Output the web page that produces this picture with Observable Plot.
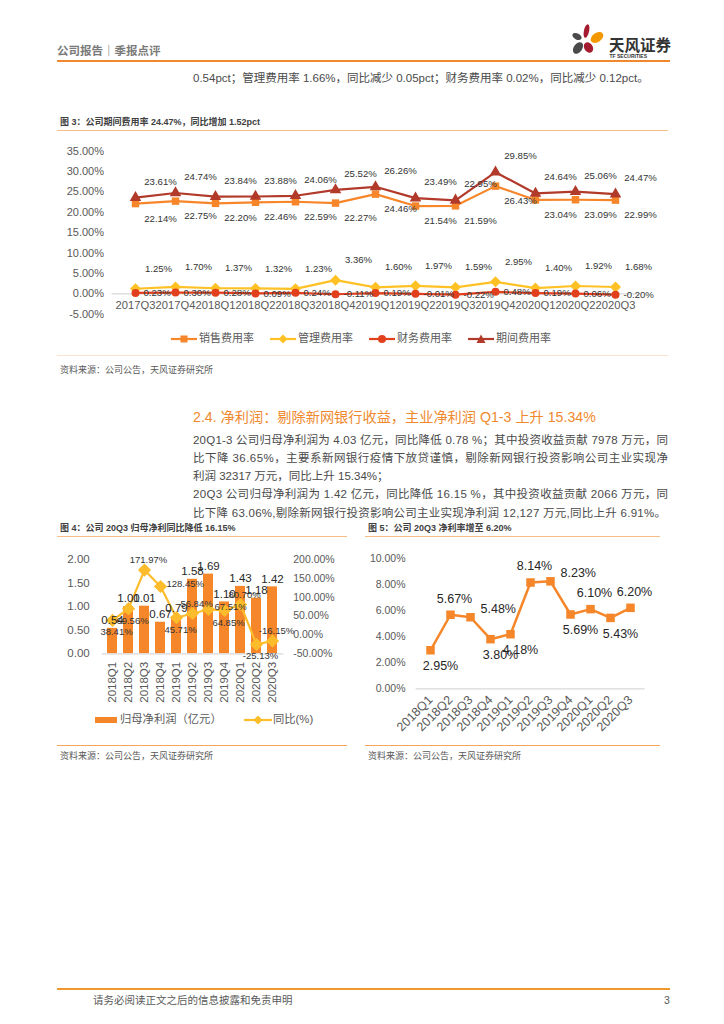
<!DOCTYPE html>
<html><head><meta charset="utf-8">
<script src="https://cdn.jsdelivr.net/npm/d3@7"></script>
<script src="https://cdn.jsdelivr.net/npm/@observablehq/plot@0.6"></script>
<style>
body{margin:0;background:#fff;}
#page{position:relative;width:724px;height:1024px;overflow:hidden;font-family:"Liberation Sans",Arial,"Noto Sans CJK SC",sans-serif;color:#404040;background:#fff;}
.abs{position:absolute;white-space:nowrap;}
.hl{position:absolute;height:0;}
.chart{position:absolute;}
.chart svg{overflow:visible;}
</style></head>
<body><div id="page"></div>
<script>
// ---------- data ----------
const quarters1 = ["2017Q3","2017Q4","2018Q1","2018Q2","2018Q3","2018Q4","2019Q1","2019Q2","2019Q3","2019Q4","2020Q1","2020Q2","2020Q3"];
const salesRate   = [22.14,22.75,22.20,22.46,22.59,22.27,24.46,21.54,21.59,26.43,23.04,23.09,22.99];
const adminRate   = [1.25,1.70,1.37,1.32,1.23,3.36,1.60,1.97,1.59,2.95,1.40,1.92,1.68];
const financeRate = [0.23,0.30,0.28,0.09,0.24,-0.11,0.19,-0.01,-0.22,0.48,0.19,0.06,-0.20];
const periodRate  = [23.61,24.74,23.84,23.88,24.06,25.52,26.26,23.49,22.95,29.85,24.64,25.06,24.47];
const yTicks1 = [-5,0,5,10,15,20,25,30,35];

const quarters2 = ["2018Q1","2018Q2","2018Q3","2018Q4","2019Q1","2019Q2","2019Q3","2019Q4","2020Q1","2020Q2","2020Q3"];
const netProfit = [0.54,1.00,1.01,0.67,0.79,1.58,1.69,1.10,1.43,1.18,1.42];
const profitYoY = [38.41,69.56,171.97,128.45,45.71,56.84,67.51,64.85,80.70,-25.13,-16.15];
const yTicksLeft2 = [0,0.5,1,1.5,2];
const yTicksRight2 = [-50,0,50,100,150,200];
const rightDomain2 = [-50,200];

const netMargin = [2.95,5.67,5.48,3.80,4.18,8.14,8.23,5.69,6.10,5.43,6.20];
const yTicks3 = [0,2,4,6,8,10];

const legend1 = ["销售费用率","管理费用率","财务费用率","期间费用率"];
const legend2 = ["归母净利润（亿元）","同比(%)"];

// ---------- helpers ----------
const FONT = '"Liberation Sans", Arial, "Noto Sans CJK SC", sans-serif';
const page = document.getElementById("page");
function txt(s, x, yc, fs, opts = {}) {
  const d = document.createElement("div");
  d.className = "abs"; d.textContent = s;
  d.style.left = x + "px"; d.style.top = (yc - fs * 0.6) + "px";
  d.style.fontSize = fs + "px"; d.style.lineHeight = (fs * 1.2) + "px";
  Object.assign(d.style, opts);
  page.appendChild(d); return d;
}
function hline(x1, x2, y, color, w) {
  const d = document.createElement("div");
  d.className = "hl";
  d.style.left = x1 + "px"; d.style.width = (x2 - x1) + "px";
  d.style.top = (y - w / 2) + "px"; d.style.borderTop = w + "px solid " + color;
  page.appendChild(d);
}
function place(svg, x, y) {
  const w = document.createElement("div");
  w.className = "chart"; w.style.left = x + "px"; w.style.top = y + "px";
  w.appendChild(svg); page.appendChild(w);
}
function fitLine(d, target) {
  const w = d.getBoundingClientRect().width;
  const n = [...d.textContent].length;
  d.style.letterSpacing = ((target - w) / (n - 1)) + "px";
}
const pct = v => v.toFixed(2) + "%";
// label placement from the series shape: above local highs, below local lows,
// to the right when the previous point was also a high
function placeLabels(values) {
  const up = values.map((v, i) => {
    const nb = [values[i - 1], values[i + 1]].filter(x => x != null);
    return v >= d3.mean(nb);
  });
  return values.map((v, i) => !up[i] ? "below" : (i > 0 && up[i - 1] ? "right" : "above"));
}

// ---------- page header ----------
txt("公司报告｜季报点评", 57, 51, 11.5, {color: "#7a7a7a", fontWeight: "bold", fontFamily: '"Noto Sans CJK SC", sans-serif'});
hline(57, 670, 61, "#F0892E", 2);
const logo = document.createElementNS("http://www.w3.org/2000/svg", "svg");
logo.setAttribute("width", "120"); logo.setAttribute("height", "50");
logo.innerHTML = `
<g transform="translate(-560,-15)">
<ellipse cx="586.5" cy="31" rx="2.6" ry="7" transform="rotate(12 586.5 31)" fill="#A51C30"/>
<ellipse cx="597" cy="37.5" rx="7" ry="4.6" transform="rotate(-35 597 37.5)" fill="#F39800"/>
<ellipse cx="577" cy="36.5" rx="5" ry="3" transform="rotate(28 577 36.5)" fill="#4a4a4a"/>
<ellipse cx="578" cy="48" rx="4.2" ry="6.5" transform="rotate(35 578 48)" fill="#4a4a4a"/>
<ellipse cx="588.5" cy="47.5" rx="4.2" ry="5.6" transform="rotate(-35 588.5 47.5)" fill="#A51C30"/>
<text x="609" y="50.5" font-size="15.5" font-weight="bold" fill="#333" font-family='"Noto Sans CJK SC", sans-serif'>天风证券</text>
<text x="609.5" y="57.5" font-size="5" font-weight="bold" fill="#333" font-family='"Liberation Sans", Arial, sans-serif'>TF SECURITIES</text>
</g>`;
logo.style.position = "absolute"; logo.style.left = "560px"; logo.style.top = "15px";
page.appendChild(logo);

txt("0.54pct；管理费用率 1.66%，同比减少 0.05pct；财务费用率 0.02%，同比减少 0.12pct。", 193, 79, 11.5, {color: "#4a4a4a"});

// ---------- figure 3 ----------
txt("图 3：公司期间费用率 24.47%，同比增加 1.52pct", 60, 122, 9, {color: "#404040", fontWeight: "bold"});
hline(57, 668, 131, "#F6BD86", 1.5);

const C_SALES = "#F7862B", C_ADMIN = "#FFC125", C_FIN = "#E2401D", C_PERIOD = "#B23A2A";
const rows1 = quarters1.map((q, i) => ({q, s: salesRate[i], a: adminRate[i], f: financeRate[i], p: periodRate[i]}));
const lblStyle1 = {fontSize: 9.6, fill: "#333", fontFamily: FONT};
const chart1 = Plot.plot({
  width: 600, height: 185,
  marginLeft: 56.5, marginRight: 16.5, marginTop: 10.7, marginBottom: 11.3,
  style: {fontFamily: FONT, fontSize: "11px", color: "#595959", background: "transparent", overflow: "visible"},
  x: {type: "point", domain: quarters1, padding: 0.5, axis: null},
  y: {domain: [-5, 35]},
  marks: [
    Plot.ruleY([0], {stroke: "#D9D9D9", strokeWidth: 1.3}),
    Plot.axisY({ticks: yTicks1, tickFormat: pct, tickSize: 0, tickPadding: 8, fontSize: 11, label: null}),
    Plot.text(quarters1, {x: d => d, y: 0, dy: 12, text: d => d, fontSize: 11.2, fill: "#595959"}),
    Plot.line(rows1, {x: "q", y: "s", stroke: C_SALES, strokeWidth: 2.2}),
    Plot.dot(rows1, {x: "q", y: "s", symbol: "square", fill: C_SALES, r: 4.2}),
    Plot.line(rows1, {x: "q", y: "a", stroke: C_ADMIN, strokeWidth: 2.2}),
    Plot.dot(rows1, {x: "q", y: "a", symbol: "diamond2", fill: C_ADMIN, stroke: C_ADMIN, r: 4}),
    Plot.line(rows1, {x: "q", y: "f", stroke: C_FIN, strokeWidth: 2.2}),
    Plot.dot(rows1, {x: "q", y: "f", fill: C_FIN, r: 4}),
    Plot.line(rows1, {x: "q", y: "p", stroke: C_PERIOD, strokeWidth: 2.2}),
    Plot.dot(rows1, {x: "q", y: "p", symbol: "triangle", fill: C_PERIOD, r: 4.3}),
    Plot.text(rows1, {x: "q", y: "p", text: d => pct(d.p), dx: 25, dy: -16, ...lblStyle1}),
    Plot.text(rows1, {x: "q", y: "s", text: d => pct(d.s), dx: 25, dy: 15, ...lblStyle1}),
    Plot.text(rows1, {x: "q", y: "a", text: d => pct(d.a), dx: 23, dy: -20, ...lblStyle1}),
    Plot.text(rows1, {x: "q", y: "f", text: d => pct(d.f), dx: 8, dy: 0, textAnchor: "start", ...lblStyle1})
  ]
});
place(chart1, 55, 140);

// legend fig 3
const legendX1 = [171, 270, 369, 468];
const legendSym1 = [
  c => `<rect x="9.5" y="1.5" width="7" height="7" fill="${c}"/>`,
  c => `<path d="M13 0.5 L17.5 5 L13 9.5 L8.5 5 Z" fill="${c}"/>`,
  c => `<circle cx="13" cy="5" r="4" fill="${c}"/>`,
  c => `<path d="M13 0.5 L17.5 9 L8.5 9 Z" fill="${c}"/>`
];
const legendCol1 = [C_SALES, C_ADMIN, C_FIN, C_PERIOD];
legend1.forEach((lab, i) => {
  const s = document.createElementNS("http://www.w3.org/2000/svg", "svg");
  s.setAttribute("width", "26"); s.setAttribute("height", "10");
  s.innerHTML = `<line x1="0" y1="5" x2="26" y2="5" stroke="${legendCol1[i]}" stroke-width="2.2"/>` + legendSym1[i](legendCol1[i]);
  s.style.position = "absolute"; s.style.left = legendX1[i] + "px"; s.style.top = "334px";
  page.appendChild(s);
  txt(lab, legendX1[i] + 28, 339, 11, {color: "#595959"});
});
hline(57, 668, 356, "#FCE3D0", 1.5);
txt("资料来源：公司公告，天风证券研究所", 60, 370, 9, {color: "#595959"});

// ---------- section text ----------
txt("2.4. 净利润：剔除新网银行收益，主业净利润 Q1-3 上升 15.34%", 193, 418, 14.2, {color: "#F0892E"});
const bodyCol = {color: "#4a4a4a"};
const L1 = txt("20Q1-3 公司归母净利润为 4.03 亿元，同比降低 0.78 %；其中投资收益贡献 7978 万元，同", 193, 441, 11.5, bodyCol);
const L2 = txt("比下降 36.65%，主要系新网银行疫情下放贷谨慎，剔除新网银行投资影响公司主业实现净", 193, 459, 11.5, bodyCol);
txt("利润 32317 万元，同比上升 15.34%；", 193, 477, 11.5, bodyCol);
const L4 = txt("20Q3 公司归母净利润为 1.42 亿元，同比降低 16.15 %，其中投资收益贡献 2066 万元，同", 193, 495, 11.5, bodyCol);
const L5 = txt("比下降 63.06%,剔除新网银行投资影响公司主业实现净利润 12,127 万元,同比上升 6.91%。", 193, 514, 11.5, bodyCol);
fitLine(L1, 475); fitLine(L2, 475); fitLine(L4, 475); fitLine(L5, 473);

// ---------- figure 4 ----------
txt("图 4：公司 20Q3 归母净利同比降低 16.15%", 60, 528, 9, {color: "#404040", fontWeight: "bold"});
hline(57, 347, 537, "#F6BD86", 1.5);
const toLeft = p => (p - rightDomain2[0]) / (rightDomain2[1] - rightDomain2[0]) * 2;
const pos2 = placeLabels(profitYoY);
const rows2 = quarters2.map((q, i) => ({q, v: netProfit[i], y: profitYoY[i], yl: toLeft(profitYoY[i]), pos: pos2[i]}));
const C_BAR = "#F5862A", C_YOY = "#FDBC2C";
const lbl2 = {fontSize: 9.5, fill: "#333"};
const chart4 = Plot.plot({
  width: 300, height: 175,
  marginLeft: 46.75, marginRight: 71.75, marginTop: 14, marginBottom: 66.7,
  style: {fontFamily: FONT, fontSize: "11px", color: "#595959", background: "transparent", overflow: "visible"},
  x: {type: "band", domain: quarters2, paddingInner: 0.35, paddingOuter: 0.175},
  y: {domain: [0, 2]},
  marks: [
    Plot.barY(rows2, {x: "q", y: "v", fill: C_BAR}),
    Plot.ruleY([0], {stroke: "#D9D9D9", strokeWidth: 1.3}),
    Plot.axisY({anchor: "left", ticks: yTicksLeft2, tickFormat: d => d.toFixed(2), tickSize: 0, tickPadding: 12.5, fontSize: 11.5, label: null}),
    Plot.axisY(yTicksRight2, {anchor: "right", y: toLeft, text: d => d.toFixed(2) + "%", tickSize: 0, tickPadding: 9.5, fontSize: 10.5, label: null}),
    Plot.axisX({tickRotate: -90, tickSize: 0, tickPadding: 8, fontSize: 11.5, label: null}),
    Plot.line(rows2, {x: "q", y: "yl", stroke: C_YOY, strokeWidth: 2.2}),
    Plot.dot(rows2, {x: "q", y: "yl", symbol: "diamond2", fill: C_YOY, stroke: C_YOY, r: 5}),
    Plot.text(rows2, {x: "q", y: "v", text: d => d.v.toFixed(2), dy: -8, fontSize: 11.5, fill: "#262626"}),
    Plot.text(rows2.filter(d => d.pos === "above"), {x: "q", y: "yl", text: d => pct(d.y), dx: 4, dy: -10, ...lbl2}),
    Plot.text(rows2.filter(d => d.pos === "right"), {x: "q", y: "yl", text: d => pct(d.y), dx: 6, dy: -3, textAnchor: "start", ...lbl2}),
    Plot.text(rows2.filter(d => d.pos === "below"), {x: "q", y: "yl", text: d => pct(d.y), dx: 4, dy: 12, ...lbl2})
  ]
});
place(chart4, 55, 545);
// legend fig 4
const lg4a = document.createElement("div");
lg4a.style.cssText = `position:absolute;left:95px;top:717px;width:22px;height:6px;background:${C_BAR};`;
page.appendChild(lg4a);
txt(legend2[0], 120, 720, 11.3, {color: "#595959"});
const lg4b = document.createElementNS("http://www.w3.org/2000/svg", "svg");
lg4b.setAttribute("width", "28"); lg4b.setAttribute("height", "10");
lg4b.innerHTML = `<line x1="0" y1="5" x2="28" y2="5" stroke="${C_YOY}" stroke-width="2.2"/><path d="M14 0.5 L18.5 5 L14 9.5 L9.5 5 Z" fill="${C_YOY}"/>`;
lg4b.style.position = "absolute"; lg4b.style.left = "244px"; lg4b.style.top = "715px";
page.appendChild(lg4b);
txt(legend2[1], 273, 720, 11.3, {color: "#595959"});
hline(57, 347, 746, "#F5A65B", 1.5);
txt("资料来源：公司公告，天风证券研究所", 60, 756, 9, {color: "#595959"});

// ---------- figure 5 ----------
txt("图 5：公司 20Q3 净利率增至 6.20%", 368, 528, 9, {color: "#404040", fontWeight: "bold"});
hline(365, 660, 537, "#F6BD86", 1.5);
const pos3 = placeLabels(netMargin);
const rows3 = quarters2.map((q, i) => ({q, v: netMargin[i], pos: pos3[i]}));
const C_NM = "#F5862A";
const lbl3 = {fontSize: 12.5, fill: "#262626"};
const chart5 = Plot.plot({
  width: 300, height: 200,
  marginLeft: 50.6, marginRight: 20.3, marginTop: 12.7, marginBottom: 56.7,
  style: {fontFamily: FONT, fontSize: "11px", color: "#595959", background: "transparent", overflow: "visible"},
  x: {type: "point", domain: quarters2, padding: 0.5},
  y: {domain: [0, 10]},
  marks: [
    Plot.ruleY([0], {stroke: "#D9D9D9", strokeWidth: 1.3}),
    Plot.axisY({ticks: yTicks3, tickFormat: pct, tickSize: 0, tickPadding: 10.6, fontSize: 10.5, label: null}),
    Plot.axisX({tickRotate: -45, tickSize: 0, tickPadding: 9, fontSize: 12.5, label: null}),
    Plot.line(rows3, {x: "q", y: "v", stroke: C_NM, strokeWidth: 2.5}),
    Plot.dot(rows3, {x: "q", y: "v", symbol: "square", fill: C_NM, r: 4.8}),
    Plot.text(rows3.filter(d => d.pos === "above"), {x: "q", y: "v", text: d => pct(d.v), dx: 4, dy: -16, ...lbl3}),
    Plot.text(rows3.filter(d => d.pos === "right"), {x: "q", y: "v", text: d => pct(d.v), dx: 10, dy: -8, textAnchor: "start", ...lbl3}),
    Plot.text(rows3.filter(d => d.pos === "below"), {x: "q", y: "v", text: d => pct(d.v), dx: 10, dy: 16, ...lbl3})
  ]
});
place(chart5, 365, 545);
hline(365, 660, 746, "#F5A65B", 1.5);
txt("资料来源：公司公告，天风证券研究所", 368, 756, 9, {color: "#595959"});

// ---------- footer ----------
hline(57, 670, 989, "#F0982E", 2.5);
txt("请务必阅读正文之后的信息披露和免责申明", 93, 1000, 10.5, {color: "#595959"});
txt("3", 664, 1000, 10.5, {color: "#595959"});
</script>
</body></html>
